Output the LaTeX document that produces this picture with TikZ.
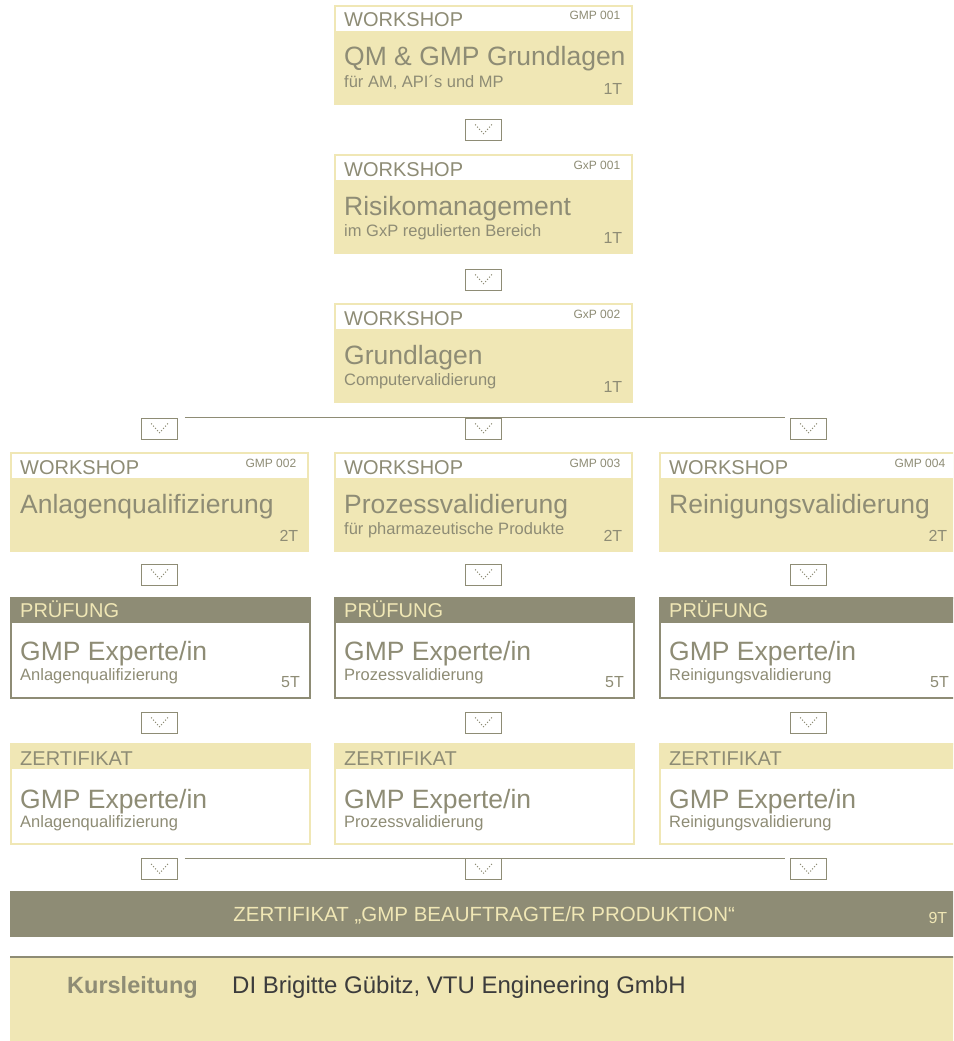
\documentclass[tikz,border=0pt]{standalone}
\usepackage{fontspec}
\setmainfont{Liberation Sans}
\usetikzlibrary{positioning}
\definecolor{olivegrey}{RGB}{142,140,117}
\definecolor{paleyellow}{RGB}{240,231,181}
\definecolor{darktext}{RGB}{60,60,60}
\tikzstyle{card} = [rectangle, inner sep=0pt, minimum width=299pt, minimum height=100pt, anchor=north west]
\tikzstyle{workshop} = [card, fill=paleyellow]
\tikzstyle{exam} = [card, fill=white, draw=olivegrey, line width=2pt]
\tikzstyle{cert} = [card, fill=white, draw=paleyellow, line width=2pt]
\tikzstyle{strip} = [rectangle, fill=white, inner sep=0pt, minimum width=295pt, minimum height=24pt, anchor=north west]
\tikzstyle{band} = [rectangle, inner sep=0pt, minimum width=299pt, minimum height=26pt, anchor=north west]
\tikzstyle{cardkind} = [font=\fontsize{20}{24}\selectfont, text=olivegrey, inner sep=0pt, anchor=base west]
\tikzstyle{cardcode} = [font=\fontsize{12}{14}\selectfont, text=olivegrey, inner sep=0pt, anchor=base east]
\tikzstyle{cardtitle} = [font=\fontsize{26.5}{30}\selectfont, text=olivegrey, inner sep=0pt, anchor=base west]
\tikzstyle{cardsub} = [font=\fontsize{16.5}{20}\selectfont, text=olivegrey, inner sep=0pt, anchor=base west]
\tikzstyle{carddays} = [font=\fontsize{16}{20}\selectfont, text=olivegrey, inner sep=0pt, anchor=base east]
\tikzstyle{arrowbox} = [rectangle, draw=olivegrey, line width=0.8pt, fill=white, inner sep=0pt, minimum width=36pt, minimum height=21pt, path picture={\foreach \i in {-4,...,4} \fill[olivegrey] ([shift={(\i*2pt,{abs(\i)*2.2pt-4.2pt})}]path picture bounding box.center) circle (0.75pt);}]
\tikzstyle{link} = [draw=olivegrey, line width=1pt]

\begin{document}
\begin{tikzpicture}[x=1pt, y=-1pt]
    \useasboundingbox (0,0) rectangle (953,1041);
    \clip (0,0) rectangle (953,1041);

    % Workshops
    \foreach \n/\x/\y/\c/\t/\s/\d in {
        ws1/334/5/GMP 001/{QM \& GMP Grundlagen}/{für AM, API´s und MP}/1T,
        ws2/334/154/GxP 001/Risikomanagement/{im GxP regulierten Bereich}/1T,
        ws3/334/303/GxP 002/Grundlagen/Computervalidierung/1T,
        ws4/10/452/GMP 002/Anlagenqualifizierung/{}/2T,
        ws5/334/452/GMP 003/Prozessvalidierung/{für pharmazeutische Produkte}/2T,
        ws6/659/452/GMP 004/Reinigungsvalidierung/{}/2T} {
        \node[workshop] (\n) at (\x,\y) {};
        \node[strip] (\n h) at ([shift={(2pt,-2pt)}]\n.north west) {};
        \node[cardkind] (\n k) at ([shift={(10pt,-22pt)}]\n.north west) {WORKSHOP};
        \node[cardcode] (\n c) at ([shift={(-13pt,-15pt)}]\n.north east) {\c};
        \node[cardtitle] (\n t) at ([shift={(10pt,-61pt)}]\n.north west) {\t};
        \node[cardsub] (\n s) at ([shift={(10pt,-82pt)}]\n.north west) {\s};
        \node[carddays] (\n d) at ([shift={(-11pt,-89pt)}]\n.north east) {\d};
    }

    % Exams and certificates
    \foreach \n/\x/\s in {l/10/Anlagenqualifizierung, c/334/Prozessvalidierung, r/659/Reinigungsvalidierung} {
        \node[exam] (ex\n) at (\x,597) {};
        \node[band, fill=olivegrey] (ex\n b) at (ex\n.north west) {};
        \node[cardkind, text=paleyellow] (ex\n k) at ([shift={(10pt,-20pt)}]ex\n.north west) {PRÜFUNG};
        \node[cardtitle] (ex\n t) at ([shift={(10pt,-63pt)}]ex\n.north west) {GMP Experte/in};
        \node[cardsub] (ex\n s) at ([shift={(10pt,-83pt)}]ex\n.north west) {\s};
        \node[carddays] (ex\n d) at ([shift={(-11pt,-90pt)}]ex\n.north east) {5T};

        \node[cert] (ce\n) at (\x,743) {};
        \node[band, fill=paleyellow] (ce\n b) at (ce\n.north west) {};
        \node[cardkind] (ce\n k) at ([shift={(10pt,-22pt)}]ce\n.north west) {ZERTIFIKAT};
        \node[cardtitle] (ce\n t) at ([shift={(10pt,-65pt)}]ce\n.north west) {GMP Experte/in};
        \node[cardsub] (ce\n s) at ([shift={(10pt,-84pt)}]ce\n.north west) {\s};
    }

    % Arrow boxes
    \node[arrowbox] (ar1) at (483.5,129.5) {};
    \node[arrowbox] (ar2) at (483.5,279.5) {};
    \foreach \n/\x in {l/159.5, c/483.5, r/808.5} {
        \node[arrowbox] (ar3\n) at (\x,428.5) {};
        \node[arrowbox] (ar4\n) at (\x,574.5) {};
        \node[arrowbox] (ar5\n) at (\x,722.5) {};
        \node[arrowbox] (ar6\n) at (\x,869) {};
    }

    % Branch and merge lines
    \draw[link] ([xshift=7pt]ar3l.north east) -- ([xshift=-5pt]ar3r.north west);
    \draw[link] ([xshift=7pt]ar6l.north east) -- ([xshift=-5pt]ar6r.north west);

    % Final certificate
    \node[rectangle, fill=olivegrey, inner sep=0pt, minimum width=948pt, minimum height=46pt, anchor=north west] (goal) at (10,891) {};
    \node[font=\fontsize{20.5}{24}\selectfont, text=paleyellow, inner sep=0pt, anchor=base] (goalt) at ([yshift=-7pt]goal.center) {ZERTIFIKAT „GMP BEAUFTRAGTE/R PRODUKTION“};
    \node[carddays, text=paleyellow] (goald) at ([shift={(-11pt,-9pt)}]goal.east) {9T};

    % Course lead
    \node[rectangle, fill=paleyellow, inner sep=0pt, minimum width=948pt, minimum height=85pt, anchor=north west] (lead) at (10,957) {};
    \draw[olivegrey, line width=2pt] (lead.north west) -- (lead.north east);
    \node[font=\bfseries\fontsize{23.5}{28}\selectfont, text=olivegrey, inner sep=0pt, anchor=base west] (leadk) at (67,993) {Kursleitung};
    \node[font=\fontsize{24}{28}\selectfont, text=darktext, inner sep=0pt, anchor=base west] (leadn) at (232,993) {DI Brigitte Gübitz, VTU Engineering GmbH};
\end{tikzpicture}
\end{document}
